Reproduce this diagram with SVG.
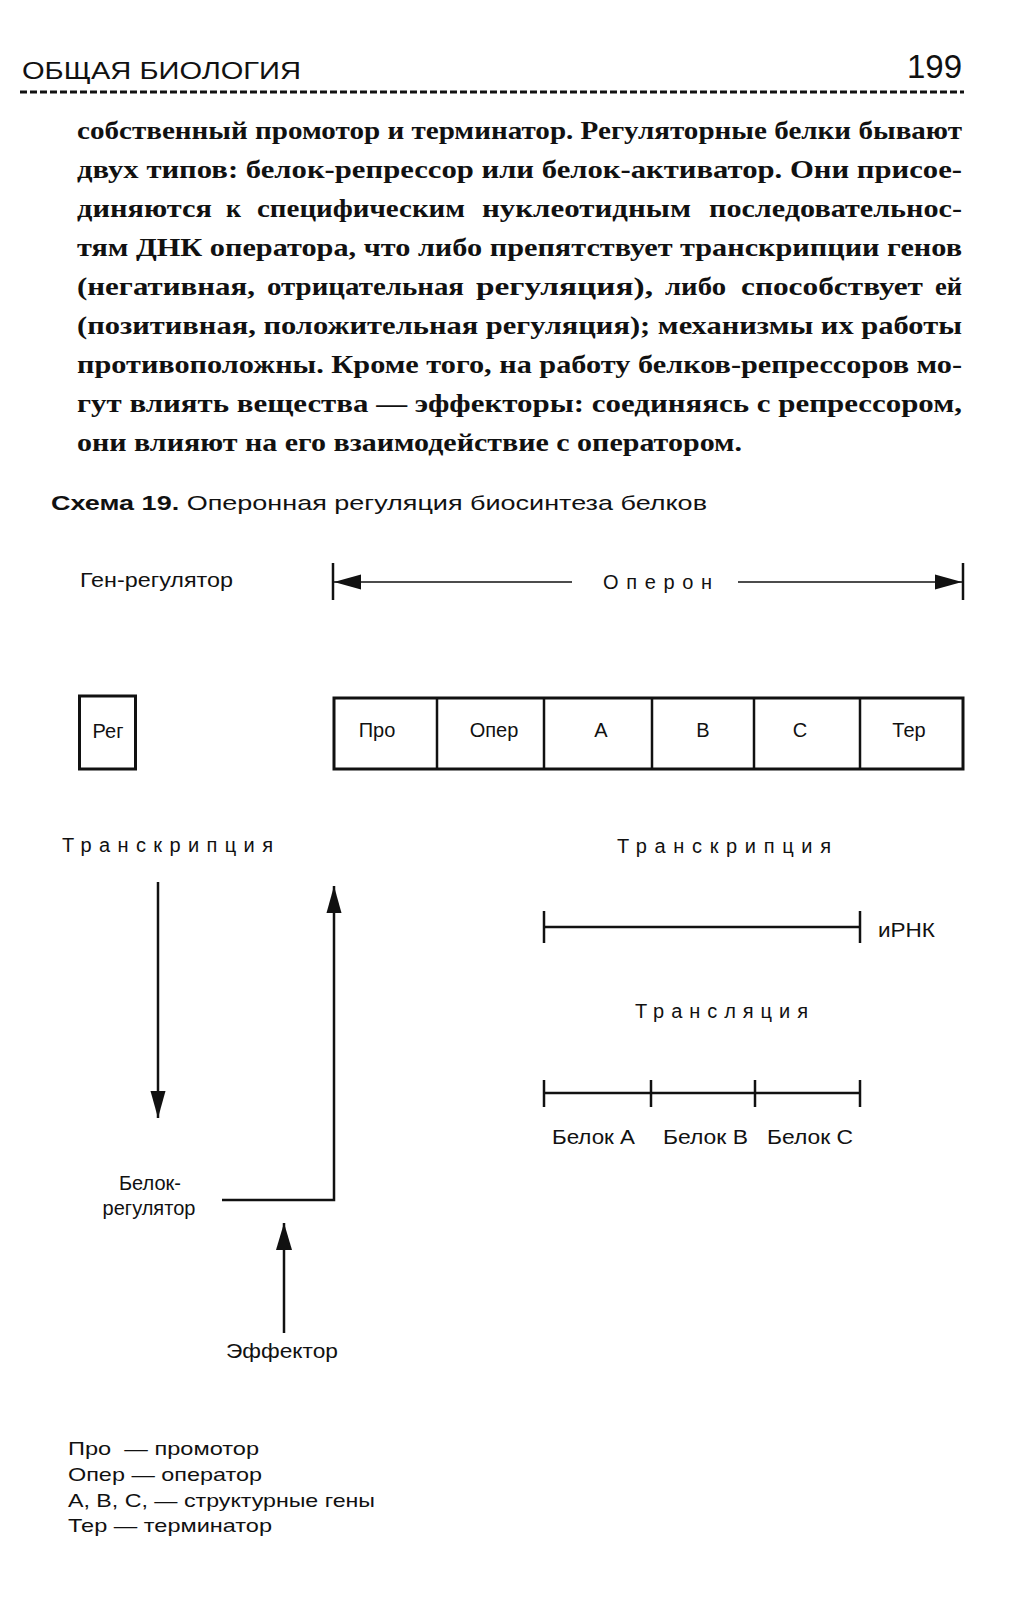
<svg xmlns="http://www.w3.org/2000/svg" width="1019" height="1600" viewBox="0 0 1019 1600">
<style>
.bg{fill:#fff}
.sans{font-family:"Liberation Sans",Arial,sans-serif;fill:#111}
.serif{font-family:"Liberation Serif","Times New Roman",serif;fill:#111;font-size:26px;font-weight:bold}
.lbl{font-size:20px}
.sp{font-size:20px}
.box{fill:none;stroke:#111;stroke-width:3}
.div{stroke:#111;stroke-width:2.5}
.ln{stroke:#111;stroke-width:2.5;fill:none}
.thin{stroke:#111;stroke-width:1.6;fill:none}
.tick{stroke:#111;stroke-width:2.5}
</style>
<defs>
<marker id="ahs" markerUnits="userSpaceOnUse" markerWidth="28" markerHeight="18" refX="27" refY="9" orient="auto"><path d="M0,1.5 L27,9 L0,16.5 Z" fill="#111"/></marker>
<marker id="ah" markerUnits="userSpaceOnUse" markerWidth="28" markerHeight="20" refX="27" refY="10" orient="auto"><path d="M0,2 L27,10 L0,18 Z" fill="#111"/></marker>
</defs>
<rect class="bg" x="0" y="0" width="1019" height="1600"/>

<g id="page-header">
<text class="sans" x="22" y="79" font-size="24" textLength="279" lengthAdjust="spacingAndGlyphs">ОБЩАЯ БИОЛОГИЯ</text>
<text class="sans" x="962" y="78" font-size="33" text-anchor="end">199</text>
<line x1="20" y1="92" x2="964" y2="92" stroke="#111" stroke-width="3" stroke-dasharray="7,3"/>
</g>

<g id="body-text">
<text class="serif" x="77" y="139" textLength="885" lengthAdjust="spacingAndGlyphs">собственный промотор и терминатор. Регуляторные белки бывают</text>
<text class="serif" x="77" y="178" textLength="885" lengthAdjust="spacingAndGlyphs">двух типов: белок-репрессор или белок-активатор. Они присое-</text>
<text class="serif" x="77" y="217" textLength="135" lengthAdjust="spacingAndGlyphs">диняются</text>
<text class="serif" x="226" y="217" textLength="15" lengthAdjust="spacingAndGlyphs">к</text>
<text class="serif" x="257" y="217" textLength="208" lengthAdjust="spacingAndGlyphs">специфическим</text>
<text class="serif" x="482" y="217" textLength="209" lengthAdjust="spacingAndGlyphs">нуклеотидным</text>
<text class="serif" x="709" y="217" textLength="253" lengthAdjust="spacingAndGlyphs">последовательнос-</text>
<text class="serif" x="77" y="256" textLength="885" lengthAdjust="spacingAndGlyphs">тям ДНК оператора, что либо препятствует транскрипции генов</text>
<text class="serif" x="77" y="295" textLength="178" lengthAdjust="spacingAndGlyphs">(негативная,</text>
<text class="serif" x="267" y="295" textLength="197" lengthAdjust="spacingAndGlyphs">отрицательная</text>
<text class="serif" x="476" y="295" textLength="177" lengthAdjust="spacingAndGlyphs">регуляция),</text>
<text class="serif" x="665" y="295" textLength="61" lengthAdjust="spacingAndGlyphs">либо</text>
<text class="serif" x="741" y="295" textLength="182" lengthAdjust="spacingAndGlyphs">способствует</text>
<text class="serif" x="935" y="295" textLength="27" lengthAdjust="spacingAndGlyphs">ей</text>
<text class="serif" x="77" y="334" textLength="885" lengthAdjust="spacingAndGlyphs">(позитивная, положительная регуляция); механизмы их работы</text>
<text class="serif" x="77" y="373" textLength="885" lengthAdjust="spacingAndGlyphs">противоположны. Кроме того, на работу белков-репрессоров мо-</text>
<text class="serif" x="77" y="412" textLength="885" lengthAdjust="spacingAndGlyphs">гут влиять вещества — эффекторы: соединяясь с репрессором,</text>
<text class="serif" x="77" y="451" textLength="665" lengthAdjust="spacingAndGlyphs">они влияют на его взаимодействие с оператором.</text>
</g>

<g id="caption">
<text class="sans" x="51" y="510" font-size="21" textLength="656" lengthAdjust="spacingAndGlyphs"><tspan font-weight="bold">Схема 19.</tspan> Оперонная регуляция биосинтеза белков</text>
</g>

<g id="gene-regulator-label">
<text class="sans lbl" x="80" y="587" textLength="153" lengthAdjust="spacingAndGlyphs">Ген-регулятор</text>
</g>

<g id="operon-label">
<line class="tick" x1="333" y1="563" x2="333" y2="600"/>
<line class="tick" x1="963" y1="563" x2="963" y2="600"/>
<text class="sans sp" x="603" y="589" textLength="109" lengthAdjust="spacing">Оперон</text>
</g>

<g id="reg">
<rect class="box" x="79.5" y="696" width="56" height="73"/>
<text class="sans lbl" x="108" y="738" text-anchor="middle">Рег</text>
</g>

<g id="operon">
<rect class="box" x="334" y="698" width="629" height="71"/>
<line class="div" x1="437" y1="698" x2="437" y2="769"/>
<line class="div" x1="544" y1="698" x2="544" y2="769"/>
<line class="div" x1="652" y1="698" x2="652" y2="769"/>
<line class="div" x1="754" y1="698" x2="754" y2="769"/>
<line class="div" x1="860" y1="698" x2="860" y2="769"/>
</g>
<g id="pro"><text class="sans lbl" x="377" y="737" text-anchor="middle">Про</text></g>
<g id="oper"><text class="sans lbl" x="494" y="737" text-anchor="middle">Опер</text></g>
<g id="gene-a"><text class="sans lbl" x="601" y="737" text-anchor="middle">А</text></g>
<g id="gene-b"><text class="sans lbl" x="703" y="737" text-anchor="middle">В</text></g>
<g id="gene-c"><text class="sans lbl" x="800" y="737" text-anchor="middle">С</text></g>
<g id="ter"><text class="sans lbl" x="909" y="737" text-anchor="middle">Тер</text></g>

<g id="transcription-left">
<text class="sans sp" x="62" y="852" textLength="211" lengthAdjust="spacing">Транскрипция</text>
</g>
<g id="transcription-right">
<text class="sans sp" x="617" y="853" textLength="214" lengthAdjust="spacing">Транскрипция</text>
</g>

<g id="mrna">
<line class="ln" x1="544" y1="927" x2="860" y2="927"/>
<line class="tick" x1="544" y1="911" x2="544" y2="943"/>
<line class="tick" x1="860" y1="911" x2="860" y2="943"/>
<text class="sans lbl" x="878" y="937" textLength="57" lengthAdjust="spacingAndGlyphs">иРНК</text>
</g>

<g id="translation">
<text class="sans sp" x="635" y="1018" textLength="173" lengthAdjust="spacing">Трансляция</text>
</g>

<g id="proteins">
<line class="ln" x1="544" y1="1093" x2="860" y2="1093"/>
<line class="tick" x1="544" y1="1080" x2="544" y2="1107"/>
<line class="tick" x1="651" y1="1080" x2="651" y2="1107"/>
<line class="tick" x1="755" y1="1080" x2="755" y2="1107"/>
<line class="tick" x1="860" y1="1080" x2="860" y2="1107"/>
<text class="sans lbl" x="552" y="1144" textLength="83" lengthAdjust="spacingAndGlyphs">Белок А</text>
<text class="sans lbl" x="663" y="1144" textLength="85" lengthAdjust="spacingAndGlyphs">Белок В</text>
<text class="sans lbl" x="767" y="1144" textLength="86" lengthAdjust="spacingAndGlyphs">Белок С</text>
</g>

<g id="protein-regulator">
<text class="sans lbl" x="150" y="1190" text-anchor="middle">Белок-</text>
<text class="sans lbl" x="149" y="1215" text-anchor="middle">регулятор</text>
</g>

<g id="effector">
<text class="sans lbl" x="282" y="1358" text-anchor="middle" textLength="112" lengthAdjust="spacingAndGlyphs">Эффектор</text>
</g>

<g id="connectors">
<line class="thin" x1="572" y1="582" x2="334" y2="582" marker-end="url(#ahs)"/>
<line class="thin" x1="738" y1="582" x2="962" y2="582" marker-end="url(#ahs)"/>
<line class="ln" x1="158" y1="882" x2="158" y2="1118" marker-end="url(#ahs)"/>
<polyline class="ln" points="222,1200 334,1200 334,886" marker-end="url(#ahs)"/>
<line class="ln" x1="284" y1="1333" x2="284" y2="1223" marker-end="url(#ah)"/>
</g>

<g id="legend">
<text class="sans" font-size="19" x="68" y="1455" textLength="191" lengthAdjust="spacingAndGlyphs" xml:space="preserve">Про  — промотор</text>
<text class="sans" font-size="19" x="68" y="1481" textLength="194" lengthAdjust="spacingAndGlyphs">Опер — оператор</text>
<text class="sans" font-size="19" x="68" y="1507" textLength="307" lengthAdjust="spacingAndGlyphs">А, В, С, — структурные гены</text>
<text class="sans" font-size="19" x="68" y="1532" textLength="204" lengthAdjust="spacingAndGlyphs">Тер — терминатор</text>
</g>
</svg>
